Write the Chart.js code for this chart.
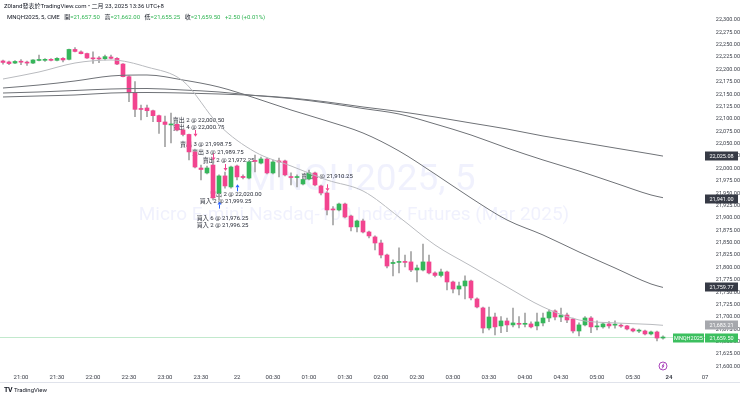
<!DOCTYPE html>
<html>
<head>
<meta charset="utf-8">
<script src="https://cdn.jsdelivr.net/npm/chart.js@4"></script>
<style>
  html, body { margin: 0; padding: 0; background: #fff; }
  #wrap { position: relative; width: 740px; height: 397px; overflow: hidden;
          font-family: Roboto, 'Noto Sans CJK TC', sans-serif; }
  canvas { position: absolute; left: 0; top: 0; }
  .hdr { position: absolute; font-size: 6px; line-height: 8px; color: #131722; white-space: nowrap; }
  #hdr1 { left: 4px; top: 2px; }
  #hdr2 { left: 7px; top: 13px; }
  #hdr2 span { margin-right: 3px; }
  .g { color: #2fb452; }
  #logo { position: absolute; left: 4px; top: 386px; font-size: 6px; color: #131722; white-space: nowrap; }
  #logo b { font-size: 7px; letter-spacing: -0.5px; margin-right: 2px; }
</style>
</head>
<body>
<div id="wrap">
  <canvas id="chart" width="740" height="397"></canvas>
  <div class="hdr" id="hdr1">Z0land發表於TradingView.com • 二月 23, 2025 13:36 UTC+8</div>
  <div class="hdr" id="hdr2"><span>MNQH2025, 5, CME</span> <span>開<b class="g" style="font-weight:normal">=21,657.50</b></span> <span>高<b class="g" style="font-weight:normal">=21,662.00</b></span> <span>低<b class="g" style="font-weight:normal">=21,655.25</b></span> <span>收<b class="g" style="font-weight:normal">=21,659.50</b></span> <span class="g">+2.50 (+0.01%)</span></div>
  <div id="logo"><b>TV</b>TradingView</div>
</div>
<script>
// 5-minute bars, MNQH2025 (bar 0 = 20:45)
const opens = [
  22217.25, 22215.25, 22213, 22215.5, 22214.25, 22213, 22218.25, 22218.5, 22219.5, 22218.5,
  22222.5, 22220.5, 22240.5, 22235.5, 22232.25, 22222.5, 22222.25, 22221.75, 22225.25, 22222.5,
  22211, 22185.5, 22153, 22120.25, 22122.25, 22116.75, 22106.75, 22094, 22088, 22089.25,
  22077.75, 22068.75, 22033.5, 22001, 21991, 22007, 21950.5, 21985, 21962.75, 22005,
  21984, 21980.75, 22015.25, 22011, 22019.25, 21991, 22014.25, 22015.25, 21983, 21981.75,
  21968.75, 21978.75, 21991, 21964.75, 21950.5, 21917.25, 21916.25, 21928.25, 21904, 21882,
  21894, 21871.75, 21861.75, 21849.5, 21825.25, 21808, 21810.25, 21811.5, 21811.25, 21795,
  21795, 21811.25, 21789, 21784, 21791, 21770.75, 21756.5, 21762.75, 21772.75, 21736.5,
  21718.25, 21677.75, 21700, 21682, 21692, 21684, 21686.25, 21685.25, 21686, 21682,
  21688, 21698, 21712.25, 21700, 21704, 21696, 21671.75, 21684, 21698, 21680,
  21680, 21686, 21683.5, 21682.25, 21682, 21675.75, 21671.5, 21671.75, 21665.75, 21669.75,
  21657.5
];
const highs = [
  22219.25, 22217.25, 22218.25, 22220.25, 22217.25, 22220.25, 22229.25, 22222.25, 22222.25, 22224.25,
  22224.25, 22241.5, 22244.5, 22237.5, 22233.25, 22235.5, 22226, 22229.25, 22229.25, 22224.25,
  22212, 22187, 22175.5, 22128.25, 22128.25, 22118.25, 22108, 22106, 22112, 22094.5,
  22079.75, 22069.75, 22035.5, 22007, 22005, 22017.25, 21987, 21993, 22005, 22007,
  21987, 22015.25, 22027.25, 22023.25, 22021.25, 22017.25, 22021.25, 22017.25, 21991, 21987,
  21980.75, 21997, 21993, 21966.75, 21953.25, 21923, 21930.25, 21930.25, 21906, 21896,
  21898, 21873.75, 21863.75, 21855.5, 21827.25, 21815.25, 21839.5, 21825.25, 21832, 21805,
  21847.5, 21825.25, 21791, 21797, 21793, 21772.75, 21770.75, 21783, 21774.75, 21738.5,
  21720.25, 21720.25, 21708, 21700.75, 21698, 21718.25, 21700.75, 21708, 21690, 21708,
  21708, 21714.25, 21714.25, 21718.25, 21708, 21698, 21688, 21700.75, 21700.75, 21692.5,
  21688.5, 21690.5, 21692.5, 21686, 21683, 21677.75, 21675.75, 21673.75, 21671.75, 21671.75,
  21662
];
const lows = [
  22211, 22210, 22212, 22210, 22208, 22212, 22217.25, 22216.25, 22217.25, 22217.25,
  22215.25, 22219.25, 22235.5, 22231.25, 22222.25, 22212.5, 22213.75, 22219.25, 22221.5, 22210,
  22185, 22135, 22104.75, 22098, 22104.75, 22094.5, 22071, 22044, 22051.5, 22075.75,
  22065.75, 22017.25, 22001, 21976.75, 21989, 21936.5, 21936.5, 21960.5, 21960.5, 21976.75,
  21978.75, 21978.75, 21993, 22009, 21989, 21989, 21983, 21985, 21966.75, 21962.75,
  21966.75, 21976.75, 21964.75, 21946.5, 21906, 21886, 21914.25, 21900, 21873.75, 21871.75,
  21869.75, 21859.5, 21835.5, 21819.25, 21799, 21783, 21789, 21801, 21791.5, 21770.75,
  21793, 21787, 21781, 21781, 21754.5, 21748.5, 21744.5, 21736.5, 21734.5, 21718.25,
  21667.75, 21673.75, 21663.75, 21668.25, 21670.5, 21680, 21677.75, 21680, 21677.75, 21673.75,
  21682, 21690.5, 21694, 21690.5, 21688.5, 21667.75, 21661.75, 21682, 21668.25, 21673.75,
  21677.25, 21677.25, 21677.25, 21678.75, 21673.75, 21669.75, 21668.25, 21663.75, 21663.75, 21651.5,
  21655.25
];
const closes = [
  22214.25, 22212, 22216.25, 22214.75, 22213, 22219.25, 22219.25, 22219.5, 22218.5, 22222.5,
  22219.25, 22240.5, 22236.5, 22232, 22223.25, 22221.5, 22221.25, 22226, 22222.5, 22211,
  22185.5, 22153, 22119.5, 22119.25, 22116.75, 22106.75, 22094.5, 22089, 22090, 22077.75,
  22068.75, 22033.5, 22003, 21998, 22001, 21940.5, 21985, 21964.75, 22003, 21983,
  21981.75, 22013.25, 22014.25, 22019.25, 21991, 22013.25, 22013.25, 21987, 21981.75, 21983,
  21977.75, 21991, 21966.75, 21950.5, 21916.25, 21916.25, 21928.25, 21902, 21882, 21894,
  21871.75, 21863.75, 21849.5, 21825.25, 21803, 21810.25, 21811.25, 21810.25, 21795, 21799,
  21811.25, 21789, 21784, 21791, 21770.75, 21756.5, 21762.75, 21772.75, 21738.5, 21720.25,
  21677.75, 21700, 21680, 21692, 21684, 21688, 21685.25, 21686.25, 21680, 21690,
  21698, 21710.25, 21700, 21704, 21694, 21671.75, 21684, 21698, 21680, 21682,
  21686, 21682, 21684.25, 21681.5, 21675.75, 21671.75, 21672.25, 21665.75, 21669.75, 21657.5,
  21659.5
];

// moving averages, read every 6 bars
const maBars = [0, 6, 12, 18, 24, 30, 36, 42, 48, 54, 60, 66, 72, 78, 84, 90, 96, 102, 108, 110];
const maFast = [22180.8, 22195, 22213.1, 22219.2, 22205, 22176.8, 22087.9, 22033.4, 22005.1, 21976.8,
  21954.6, 21902, 21845.5, 21803, 21760.7, 21720.3, 21694, 21688, 21685, 21683.21];
const maMid = [22162.6, 22168.7, 22176.8, 22186.9, 22188.9, 22178.8, 22164.6, 22142.4, 22118.2, 22096,
  22071.7, 22035.4, 21988.9, 21940.4, 21896, 21865.7, 21831.4, 21799, 21766.7, 21759.77];
const maSlow = [22152.5, 22154.6, 22157.6, 22160.6, 22161.6, 22158.6, 22154.6, 22147.5, 22141.4, 22132.3,
  22121.2, 22110.1, 22090, 22067.7, 22041.4, 22017.2, 21995, 21970.7, 21946.5, 21941];
const maLong = [22144.5, 22146.5, 22148.5, 22152.5, 22153.5, 22152.5, 22150.5, 22147.5, 22142.4, 22134.4,
  22124.3, 22115.2, 22104.1, 22091.9, 22079.8, 22065.7, 22053.6, 22041.4, 22029.3, 22025.08];

const timeTickBars = [3, 9, 15, 21, 27, 33, 39, 45, 51, 57, 63, 69, 75, 81, 87, 93, 99, 105, 111, 117];
const timeTickLabels = ['21:00', '21:30', '22:00', '22:30', '23:00', '23:30', '22', '00:30', '01:00', '01:30',
  '02:00', '02:30', '03:00', '03:30', '04:00', '04:30', '05:00', '05:30', '24', '07'];
const priceTicks = [21600, 21625, 21650, 21675, 21700, 21725, 21750, 21775, 21800, 21825, 21850, 21875,
  21900, 21925, 21950, 21975, 22000, 22025, 22050, 22075, 22100, 22125, 22150, 22175, 22200, 22225,
  22250, 22275, 22300];

// trade notes (bar, price)
const noteTexts = ['賣出 2 @ 22,000.50', '賣出 4 @ 22,000.75', '賣出 3 @ 21,998.75', '賣出 3 @ 21,989.75',
  '賣出 2 @ 21,972.25', '賣出 2 @ 22,020.00', '買入 2 @ 21,999.25', '買入 6 @ 21,976.25',
  '買入 2 @ 21,996.25', '賣出 6 @ 21,910.25'];
const noteBars = [28.3, 28.3, 29.5, 31.5, 33.3, 34.5, 32.8, 32.3, 32.3, 49.7];
const notePrices = [22096, 22083, 22048.5, 22031.5, 22017, 21946.5, 21932.5, 21898, 21884, 21983];
const sellArrowBars = [32, 35, 37, 54];
const sellArrowPrices = [22072, 22024, 22003, 21962];
const buyArrowBars = [36, 39];
const buyArrowPrices = [21925, 21960];

const UP = '#35b65a';
const DOWN = '#f2448f';
const WICK = '#a3a3a3';
const FONT = "Roboto, 'Noto Sans CJK TC', sans-serif";

const fmt = (v) => v.toLocaleString('en-US', { minimumFractionDigits: 2, maximumFractionDigits: 2 });
const lastClose = closes[closes.length - 1];
const lastBar = closes.length - 1;

const candleColors = closes.map((c, i) => (c >= opens[i] ? UP : DOWN));

function maPoints(values) {
  return maBars.map((b, k) => ({ x: b, y: values[k] }));
}

function priceBox(ctx, yPix, bg, fg, text, x0, w) {
  ctx.fillStyle = bg;
  ctx.fillRect(x0, Math.round(yPix) - 4.5, w, 9);
  ctx.fillStyle = fg;
  ctx.textAlign = 'center';
  ctx.textBaseline = 'middle';
  ctx.fillText(text, x0 + w / 2, Math.round(yPix) + 0.5);
}

const overlay = {
  id: 'tvOverlay',
  beforeDatasetsDraw(chart) {
    const { ctx, chartArea: a, scales: { x, y } } = chart;
    ctx.save();
    // watermark
    ctx.fillStyle = 'rgba(110, 116, 235, 0.1)';
    ctx.textAlign = 'center';
    ctx.textBaseline = 'middle';
    ctx.font = `37px ${FONT}`;
    ctx.fillText('MNQH2025, 5', 360, 181);
    ctx.font = `19px ${FONT}`;
    ctx.fillText('Micro E-mini Nasdaq-100 Index Futures (Mar 2025)', 354, 215);
    // last price line
    const yc = Math.round(y.getPixelForValue(lastClose)) + 0.5;
    ctx.strokeStyle = 'rgba(53, 182, 90, 0.3)';
    ctx.lineWidth = 1;
    ctx.beginPath();
    ctx.moveTo(a.left, yc);
    ctx.lineTo(a.right, yc);
    ctx.stroke();
    // trade notes (behind candles)
    ctx.fillStyle = '#2a2e39';
    ctx.font = `6px ${FONT}`;
    ctx.textAlign = 'left';
    noteTexts.forEach((t, k) => {
      ctx.fillText(t, x.getPixelForValue(noteBars[k]), y.getPixelForValue(notePrices[k]));
    });
    ctx.restore();
  },
  afterDatasetsDraw(chart) {
    const { ctx, scales: { x, y } } = chart;
    ctx.save();
    ctx.lineWidth = 1;
    const arrow = (px, py, dir, color) => {
      ctx.strokeStyle = color;
      ctx.fillStyle = color;
      ctx.beginPath();
      ctx.moveTo(px, py - 3 * dir);
      ctx.lineTo(px, py + 1 * dir);
      ctx.stroke();
      ctx.beginPath();
      ctx.moveTo(px - 2, py + 1 * dir);
      ctx.lineTo(px + 2, py + 1 * dir);
      ctx.lineTo(px, py + 4 * dir);
      ctx.closePath();
      ctx.fill();
    };
    sellArrowBars.forEach((b, k) => arrow(Math.round(x.getPixelForValue(b)) + 0.5, y.getPixelForValue(sellArrowPrices[k]), 1, DOWN));
    buyArrowBars.forEach((b, k) => arrow(Math.round(x.getPixelForValue(b)) + 0.5, y.getPixelForValue(buyArrowPrices[k]), -1, '#2962ff'));
    ctx.restore();
  },
  afterDraw(chart) {
    const { ctx, chartArea: a, scales: { x, y } } = chart;
    ctx.save();
    ctx.font = `5.5px ${FONT}`;
    const x0 = a.right;
    const w = 33;
    priceBox(ctx, y.getPixelForValue(maLong[maLong.length - 1]), '#363a45', '#fff', fmt(maLong[maLong.length - 1]), x0, w);
    priceBox(ctx, y.getPixelForValue(maSlow[maSlow.length - 1]) + 1, '#363a45', '#fff', fmt(maSlow[maSlow.length - 1]), x0, w);
    priceBox(ctx, y.getPixelForValue(maMid[maMid.length - 1]), '#363a45', '#fff', fmt(maMid[maMid.length - 1]), x0, w);
    priceBox(ctx, y.getPixelForValue(maFast[maFast.length - 1]), '#a6a8ad', '#fff', fmt(maFast[maFast.length - 1]), x0, w);
    const yc = y.getPixelForValue(lastClose) + 1;
    priceBox(ctx, yc, '#3cbf5f', '#fff', fmt(lastClose), x0, w);
    priceBox(ctx, yc, '#3cbf5f', '#fff', 'MNQH2025', x0 - 32, 31);
    // time axis border
    ctx.fillStyle = '#e0e3eb';
    ctx.fillRect(0, 382, 740, 1);
    // event marker
    const ex = x.getPixelForValue(lastBar);
    const ey = a.bottom - 5;
    ctx.strokeStyle = '#ab47bc';
    ctx.lineWidth = 1;
    ctx.beginPath();
    ctx.arc(ex, ey, 4, 0, Math.PI * 2);
    ctx.stroke();
    ctx.beginPath();
    ctx.moveTo(ex + 1, ey - 2.5);
    ctx.lineTo(ex - 1, ey + 0.3);
    ctx.lineTo(ex + 1, ey - 0.3);
    ctx.lineTo(ex - 1, ey + 2.5);
    ctx.stroke();
    ctx.restore();
  },
};

Chart.defaults.font.family = FONT;

new Chart(document.getElementById('chart'), {
  type: 'bar',
  data: {
    datasets: [
      {
        type: 'line', data: maPoints(maFast), borderColor: '#b9bbbf', borderWidth: 1,
        pointRadius: 0, cubicInterpolationMode: 'monotone', order: 0,
      },
      {
        type: 'line', data: maPoints(maMid), borderColor: '#6f7277', borderWidth: 1,
        pointRadius: 0, cubicInterpolationMode: 'monotone', order: 0,
      },
      {
        type: 'line', data: maPoints(maSlow), borderColor: '#6f7277', borderWidth: 1,
        pointRadius: 0, cubicInterpolationMode: 'monotone', order: 0,
      },
      {
        type: 'line', data: maPoints(maLong), borderColor: '#6f7277', borderWidth: 1,
        pointRadius: 0, cubicInterpolationMode: 'monotone', order: 0,
      },
      {
        label: 'body',
        data: opens.map((o, i) => ({ x: i, y: [o, closes[i]] })),
        backgroundColor: candleColors,
        barThickness: 4,
        minBarLength: 1,
        grouped: false,
        order: 1,
      },
      {
        label: 'wick',
        data: lows.map((l, i) => ({ x: i, y: [l, highs[i]] })),
        backgroundColor: WICK,
        barThickness: 1,
        grouped: false,
        order: 2,
      },
    ],
  },
  options: {
    responsive: false,
    devicePixelRatio: 1,
    animation: false,
    layout: { padding: { left: 0, right: 0, top: 0, bottom: 14 } },
    plugins: { legend: { display: false }, tooltip: { enabled: false } },
    scales: {
      x: {
        type: 'linear',
        min: -0.5,
        max: 117,
        offset: false,
        grid: { display: false, drawTicks: false },
        border: { display: false },
        ticks: {
          autoSkip: false,
          maxRotation: 0,
          padding: 3,
          color: '#3a3e48',
          font: (c) => ({ size: 6, weight: c.tick && c.tick.value === 111 ? 'bold' : 'normal' }),
          callback: (v) => timeTickLabels[timeTickBars.indexOf(v)],
        },
        afterBuildTicks: (s) => { s.ticks = timeTickBars.map((v) => ({ value: v })); },
        afterFit: (s) => { s.height = 12; },
      },
      y: {
        position: 'right',
        min: 21590.9,
        max: 22340.4,
        grid: { display: false, drawTicks: false },
        border: { display: false },
        ticks: {
          crossAlign: 'far',
          padding: -5,
          color: '#3a3e48',
          font: { size: 5.5 },
          callback: (v) => fmt(v),
        },
        afterBuildTicks: (s) => { s.ticks = priceTicks.map((v) => ({ value: v })); },
        afterFit: (s) => { s.width = 35; },
      },
    },
  },
  plugins: [overlay],
});
</script>
</body>
</html>
